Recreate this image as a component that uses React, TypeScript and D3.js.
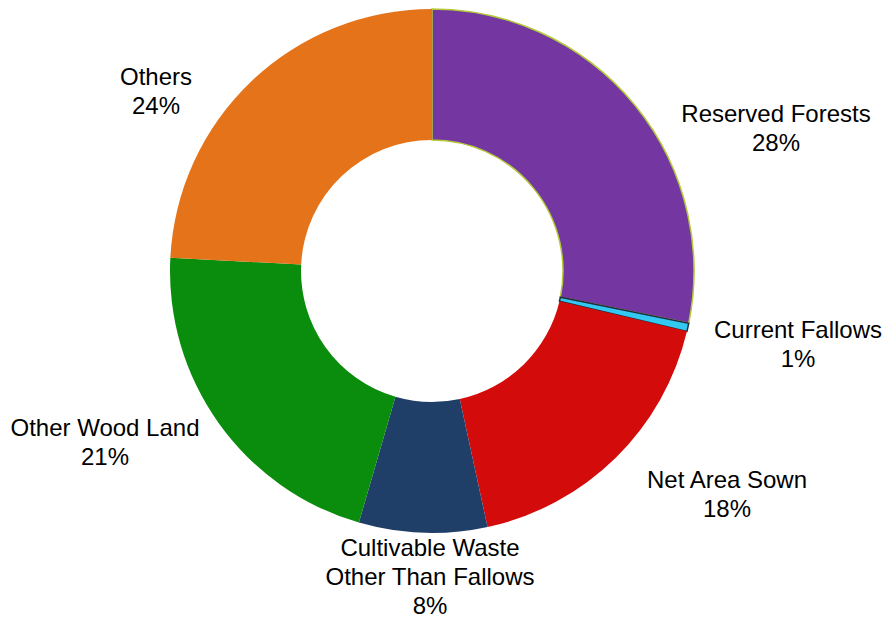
import React from "react";
import * as d3 from "d3";

const categories = [
  "Reserved Forests",
  "Current Fallows",
  "Net Area Sown",
  "Cultivable Waste Other Than Fallows",
  "Other Wood Land",
  "Others",
];
const values = [28.2, 0.5, 17.9, 7.9, 21.3, 24.2];
const percentLabels = ["28%", "1%", "18%", "8%", "21%", "24%"];
const labelLines = [
  ["Reserved Forests"],
  ["Current Fallows"],
  ["Net Area Sown"],
  ["Cultivable Waste", "Other Than Fallows"],
  ["Other Wood Land"],
  ["Others"],
];

const colors = ["#7437a2", "#33c8f2", "#d40b0b", "#203f68", "#0a8c0c", "#e4731a"];
const strokes = ["#b3c93a", "#1f2f3f", "none", "none", "none", "none"];
// label anchor: center x and first-line baseline, absolute page coords
const labelPos: [number, number][] = [
  [776, 122],
  [798, 338],
  [727, 488],
  [430, 556],
  [105, 436],
  [156, 85],
];

export default function App() {
  const W = 885;
  const H = 619;
  const cx = 432;
  const cy = 271;
  const outerR = 262;
  const innerR = 131;

  const pie = d3
    .pie<number>()
    .sort(null)
    .value((d) => d)
    .startAngle(0)
    .endAngle(2 * Math.PI);
  const arcs = pie(values);
  const arcGen = d3.arc<d3.PieArcDatum<number>>().innerRadius(innerR).outerRadius(outerR);

  return (
    <svg
      width={W}
      height={H}
      style={{ position: "absolute", left: 0, top: 0, background: "#fff" }}
    >
      <g transform={`translate(${cx},${cy})`}>
        {arcs.map((a, i) => (
          <path
            key={categories[i]}
            d={arcGen(a) || ""}
            fill={colors[i]}
            stroke={strokes[i]}
            strokeWidth={strokes[i] === "none" ? 0 : 1.5}
          />
        ))}
      </g>
      {arcs.map((a, i) => {
        const [lx, ly] = labelPos[i];
        const lines = [...labelLines[i], percentLabels[i]];
        return (
          <text
            key={"t" + i}
            x={lx}
            y={ly}
            textAnchor="middle"
            fontFamily="Liberation Sans, Arial, sans-serif"
            fontSize={24}
            fill="#000"
          >
            {lines.map((l, j) => (
              <tspan key={j} x={lx} dy={j === 0 ? 0 : 29}>
                {l}
              </tspan>
            ))}
          </text>
        );
      })}
    </svg>
  );
}
